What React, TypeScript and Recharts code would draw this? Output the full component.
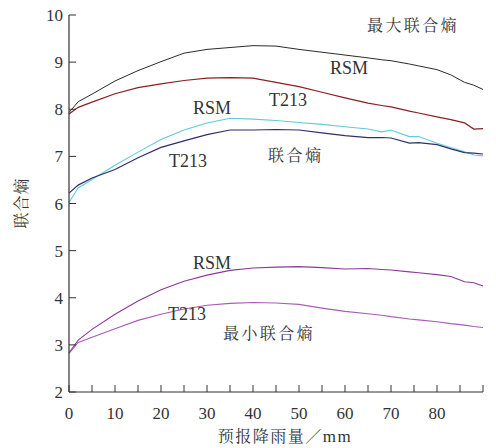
import React from 'react';
import { LineChart, Line, XAxis, YAxis } from 'recharts';

// 预报降雨量 (mm)
const rainfall = [0, 2, 5, 10, 15, 20, 25, 30, 35, 40, 45, 50, 55, 60, 65, 68, 70, 74, 76, 80, 83, 86, 88, 90];

// 最大联合熵
const maxRsm = [7.93, 8.16, 8.32, 8.6, 8.82, 9.01, 9.19, 9.27, 9.31, 9.35, 9.34, 9.27, 9.21, 9.15, 9.09, 9.05, 9.03, 8.96, 8.92, 8.84, 8.73, 8.57, 8.51, 8.42];
const maxT213 = [7.9, 8.04, 8.15, 8.33, 8.46, 8.54, 8.61, 8.66, 8.67, 8.66, 8.57, 8.48, 8.36, 8.24, 8.13, 8.08, 8.05, 7.96, 7.92, 7.84, 7.78, 7.71, 7.58, 7.59];

// 联合熵
const jointRsm = [6.02, 6.33, 6.51, 6.81, 7.09, 7.36, 7.56, 7.71, 7.81, 7.79, 7.76, 7.72, 7.68, 7.63, 7.58, 7.52, 7.56, 7.42, 7.42, 7.28, 7.19, 7.1, 7.03, 7.01];
const jointT213 = [6.22, 6.39, 6.54, 6.72, 6.97, 7.19, 7.33, 7.46, 7.56, 7.56, 7.57, 7.56, 7.5, 7.44, 7.4, 7.4, 7.39, 7.28, 7.29, 7.25, 7.16, 7.08, 7.07, 7.05];

// 最小联合熵
const minRsm = [2.83, 3.1, 3.33, 3.65, 3.93, 4.17, 4.35, 4.48, 4.58, 4.63, 4.65, 4.66, 4.64, 4.61, 4.62, 4.6, 4.59, 4.55, 4.53, 4.49, 4.45, 4.34, 4.32, 4.25];
const minT213 = [2.82, 3.05, 3.16, 3.34, 3.52, 3.65, 3.76, 3.84, 3.88, 3.9, 3.89, 3.86, 3.78, 3.71, 3.66, 3.63, 3.6, 3.55, 3.53, 3.49, 3.45, 3.42, 3.39, 3.37];

const xTicks = [0, 5, 10, 15, 20, 25, 30, 35, 40, 45, 50, 55, 60, 65, 70, 75, 80, 85, 90];
const yTicks = [2, 3, 4, 5, 6, 7, 8, 9, 10];

const data = rainfall.map((x, i) => ({
  x,
  maxRsm: maxRsm[i],
  maxT213: maxT213[i],
  jointRsm: jointRsm[i],
  jointT213: jointT213[i],
  minRsm: minRsm[i],
  minT213: minT213[i],
}));

const FONT = "'Liberation Serif', serif";
const CJK = "'Noto Serif CJK SC', serif";
const INK = '#333';

const App: React.FC = () => {
  return (
    <div style={{ position: 'absolute', left: 0, top: 0, width: 496, height: 448, background: '#fff' }}>
      <LineChart width={496} height={448} data={data} margin={{ top: 15, right: 13, bottom: 0, left: 0 }}>
        <XAxis
          dataKey="x"
          type="number"
          domain={[0, 90]}
          ticks={xTicks}
          interval={0}
          height={56}
          tickSize={-7}
          tickMargin={22}
          tickFormatter={(v: number) => (v % 10 === 0 && v <= 80 ? String(v) : '')}
          axisLine={{ stroke: INK, strokeWidth: 1.2 }}
          tickLine={{ stroke: INK, strokeWidth: 1 }}
          tick={{ fontSize: 17, fill: INK, fontFamily: FONT }}
        />
        <YAxis
          type="number"
          domain={[2, 10]}
          ticks={yTicks}
          interval={0}
          width={69}
          tickSize={-7}
          tickMargin={13}
          axisLine={{ stroke: INK, strokeWidth: 1.2 }}
          tickLine={{ stroke: INK, strokeWidth: 1 }}
          tick={{ fontSize: 17, fill: INK, fontFamily: FONT }}
        />
        <Line type="linear" dataKey="maxRsm" stroke="#2b2b2b" strokeWidth={1} dot={false} isAnimationActive={false} />
        <Line type="linear" dataKey="maxT213" stroke="#8a1f24" strokeWidth={1.2} dot={false} isAnimationActive={false} />
        <Line type="linear" dataKey="jointRsm" stroke="#62cbd8" strokeWidth={1.1} dot={false} isAnimationActive={false} />
        <Line type="linear" dataKey="jointT213" stroke="#2f2f6b" strokeWidth={1.2} dot={false} isAnimationActive={false} />
        <Line type="linear" dataKey="minRsm" stroke="#8b3a96" strokeWidth={1.1} dot={false} isAnimationActive={false} />
        <Line type="linear" dataKey="minT213" stroke="#a85cb4" strokeWidth={1.1} dot={false} isAnimationActive={false} />
      </LineChart>
      <svg width={496} height={448} style={{ position: 'absolute', left: 0, top: 0, pointerEvents: 'none' }}>
        <g fill={INK} fontFamily={FONT} fontSize={18}>
          <text x={330} y={74}>RSM</text>
          <text x={269} y={106}>T213</text>
          <text x={193} y={114}>RSM</text>
          <text x={169} y={167}>T213</text>
          <text x={193} y={269}>RSM</text>
          <text x={168} y={320}>T213</text>
        </g>
        <g fill={INK} fontFamily={CJK} fontSize={16}>
          <text x={367} y={31} letterSpacing={2.4}>最大联合熵</text>
          <text x={268} y={161} letterSpacing={2.5}>联合熵</text>
          <text x={223} y={339} letterSpacing={2.4}>最小联合熵</text>
          <text x={20} y={203} textAnchor="middle" dominantBaseline="central" transform="rotate(-90 20 203)" letterSpacing={1}>联合熵</text>
          <text x={285} y={442} textAnchor="middle" letterSpacing={1.5}>
            预报降雨量／<tspan fontFamily={FONT} fontSize={17}>mm</tspan>
          </text>
        </g>
      </svg>
    </div>
  );
};

export default App;
